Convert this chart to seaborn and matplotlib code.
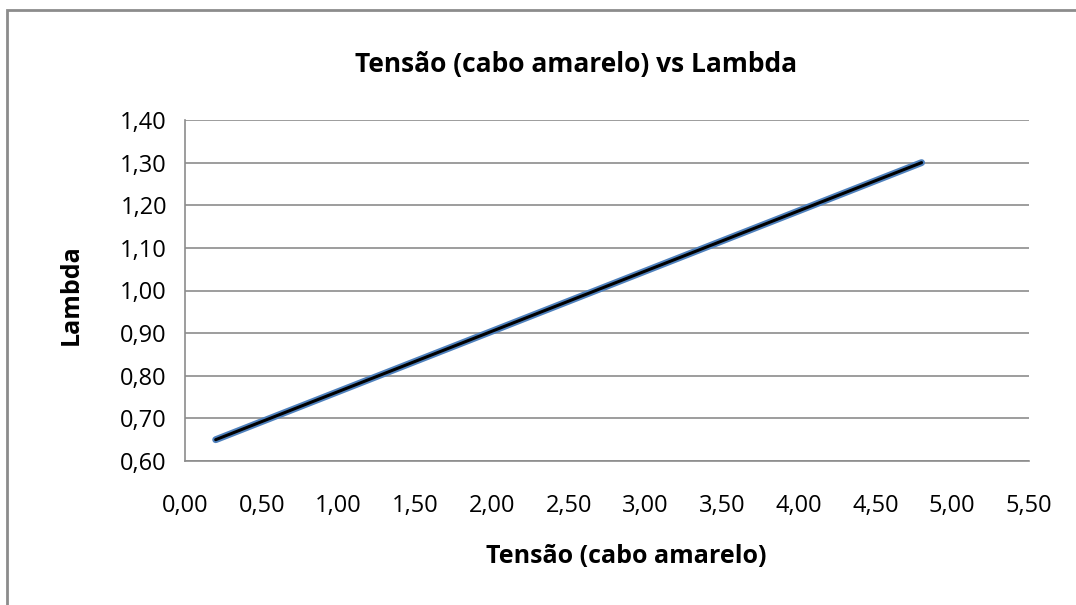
import numpy as np
import seaborn as sns
import matplotlib.pyplot as plt
import pandas as pd
from matplotlib.patches import Rectangle

# values
tensao = [0.20, 4.80]
lambda_vals = [0.65, 1.30]
x_ticks = [0.0, 0.5, 1.0, 1.5, 2.0, 2.5, 3.0, 3.5, 4.0, 4.5, 5.0, 5.5]
y_ticks = [0.6, 0.7, 0.8, 0.9, 1.0, 1.1, 1.2, 1.3, 1.4]

df = pd.DataFrame({"Tensão (cabo amarelo)": tensao, "Lambda": lambda_vals})

sns.set_style("white")
plt.rcParams["font.family"] = ["Open Sans", "DejaVu Sans"]
plt.rcParams["text.color"] = "black"
plt.rcParams["axes.labelcolor"] = "black"
plt.rcParams["xtick.color"] = "black"
plt.rcParams["ytick.color"] = "black"

fig = plt.figure(figsize=(10.76, 6.05), dpi=100)
ax = fig.add_axes([185 / 1076, 1 - 461 / 605, (1029 - 185) / 1076, (461 - 120) / 605])

# outer chart border (only left/top visible, rest is cropped)
fig.patches.append(Rectangle((7 / 1076, -0.1), 1.2, (605 - 10) / 605 + 0.1,
                             transform=fig.transFigure, fill=False,
                             edgecolor="#8c8c8c", linewidth=2))

# series line (blue) with linear trendline (black) on top
sns.lineplot(data=df, x="Tensão (cabo amarelo)", y="Lambda", ax=ax,
             color="#4f81bd", linewidth=5, solid_capstyle="round")
sns.regplot(data=df, x="Tensão (cabo amarelo)", y="Lambda", ax=ax,
            scatter=False, ci=None, truncate=True,
            line_kws={"color": "black", "linewidth": 2.2})

ax.set_xlim(0, 5.5)
ax.set_ylim(0.6, 1.4)
ax.set_xticks(x_ticks)
ax.set_yticks(y_ticks)
ax.set_xticklabels([f"{v:.2f}".replace(".", ",") for v in x_ticks], fontsize=17)
ax.set_yticklabels([f"{v:.2f}".replace(".", ",") for v in y_ticks], fontsize=17)
ax.tick_params(axis="x", length=8, width=1.2, color="#8c8c8c", direction="out", pad=15.5)
ax.tick_params(axis="y", length=5, width=1.2, color="#8c8c8c", direction="out", pad=8)

ax.yaxis.grid(True, color="#8c8c8c", linewidth=1.2)
ax.set_axisbelow(True)
for s in ["top", "right"]:
    ax.spines[s].set_visible(False)
for s in ["left", "bottom"]:
    ax.spines[s].set_color("#8c8c8c")
    ax.spines[s].set_linewidth(1.2)

ax.set_xlabel("Tensão (cabo amarelo)", fontsize=18, fontweight="bold", labelpad=19)
ax.xaxis.label.set_x((626 - 185) / 844)
ax.set_ylabel("Lambda", fontsize=18, fontweight="bold", labelpad=26)
ax.yaxis.label.set_y((461 - 295) / 341)
ax.set_title("Tensão (cabo amarelo) vs Lambda", fontsize=19, fontweight="bold",
             pad=34.5, x=(576 - 185) / 844)

fig.savefig("out.png", dpi=100)
